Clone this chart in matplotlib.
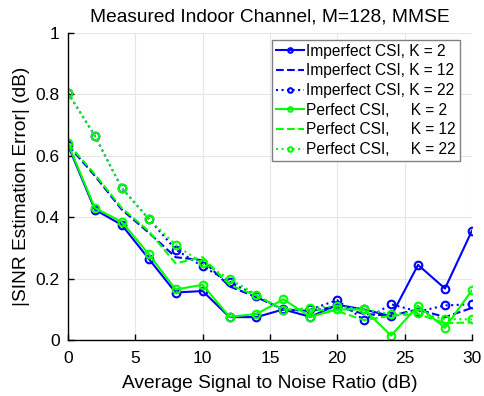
import matplotlib.pyplot as plt
import numpy as np

plt.rcParams['font.family'] = ['Liberation Sans', 'DejaVu Sans']

snr = [0, 2, 4, 6, 8, 10, 12, 14, 16, 18, 20, 22, 24, 26, 28, 30]

# imperfect CSI
imp_k2 = [0.635, 0.425, 0.375, 0.265, 0.155, 0.16, 0.075, 0.075, 0.10, 0.076,
          0.115, 0.10, 0.078, 0.245, 0.168, 0.356]
imp_k12 = [0.635, 0.535, 0.425, 0.35, 0.27, 0.26, 0.175, 0.14, 0.10, 0.095,
           0.11, 0.085, 0.08, 0.10, 0.075, 0.105]
imp_k22 = [0.805, 0.665, 0.495, 0.395, 0.295, 0.24, 0.19, 0.145, 0.098, 0.10,
           0.13, 0.065, 0.117, 0.093, 0.113, 0.117]

# perfect CSI
per_k2 = [0.64, 0.43, 0.385, 0.28, 0.165, 0.18, 0.076, 0.085, 0.133, 0.076,
          0.10, 0.10, 0.015, 0.112, 0.04, 0.162]
per_k12 = [0.64, 0.54, 0.43, 0.355, 0.25, 0.27, 0.18, 0.145, 0.10, 0.10,
           0.095, 0.065, 0.08, 0.085, 0.055, 0.058]
per_k22 = [0.805, 0.665, 0.495, 0.395, 0.31, 0.25, 0.2, 0.148, 0.098, 0.105,
           0.11, 0.10, 0.085, 0.09, 0.068, 0.068]

labels = ['Imperfect CSI, K = 2', 'Imperfect CSI, K = 12', 'Imperfect CSI, K = 22',
          'Perfect CSI,     K = 2', 'Perfect CSI,     K = 12', 'Perfect CSI,     K = 22']

blue = '#0000ff'
green = '#00ff00'

fig = plt.figure(figsize=(4.85, 3.96), dpi=100)
ax = fig.add_axes([0.140, 0.141, 0.833, 0.776])

lw = 1.5
mk = dict(marker='o', markersize=5.5, markerfacecolor='none', markeredgewidth=1.5)

ax.plot(snr, imp_k2, '-', color=blue, lw=lw, label=labels[0], **mk)
ax.plot(snr, imp_k12, '--', color=blue, lw=lw, label=labels[1])
ax.plot(snr, imp_k22, ':', color=blue, lw=lw, label=labels[2], **mk)
ax.plot(snr, per_k2, '-', color=green, lw=lw, label=labels[3], **mk)
ax.plot(snr, per_k12, '--', color=green, lw=lw, label=labels[4])
ax.plot(snr, per_k22, ':', color=green, lw=lw, label=labels[5], **mk)

ax.set_xlim(0, 30)
ax.set_ylim(0, 1)
ax.set_xticks([0, 5, 10, 15, 20, 25, 30])
ax.set_yticks([0, 0.2, 0.4, 0.6, 0.8, 1])
ax.set_yticklabels(['0', '0.2', '0.4', '0.6', '0.8', '1'])
ax.tick_params(direction='in', labelsize=12.5, length=4, width=1, pad=6)
ax.tick_params(axis='x', pad=8)
ax.grid(True, color='#e6e6e6', linewidth=0.8)
ax.set_axisbelow(True)
for s in ['top', 'right']:
    ax.spines[s].set_visible(False)
for s in ['left', 'bottom']:
    ax.spines[s].set_linewidth(1)

ax.set_xlabel('Average Signal to Noise Ratio (dB)', fontsize=13.8, labelpad=6)
ax.set_ylabel('|SINR Estimation Error| (dB)', fontsize=13.8, labelpad=4)
ax.set_title('Measured Indoor Channel, M=128, MMSE', fontsize=13.8, pad=8)

leg = ax.legend(loc='upper right', fontsize=11.2, handlelength=1.8, handletextpad=0.12,
                labelspacing=0.3, borderpad=0.25, borderaxespad=0, fancybox=False,
                framealpha=1, edgecolor='#808080', markerscale=0.6,
                bbox_to_anchor=(0.97, 0.977))
leg.get_frame().set_linewidth(1)

fig.savefig('out.png', dpi=100)
